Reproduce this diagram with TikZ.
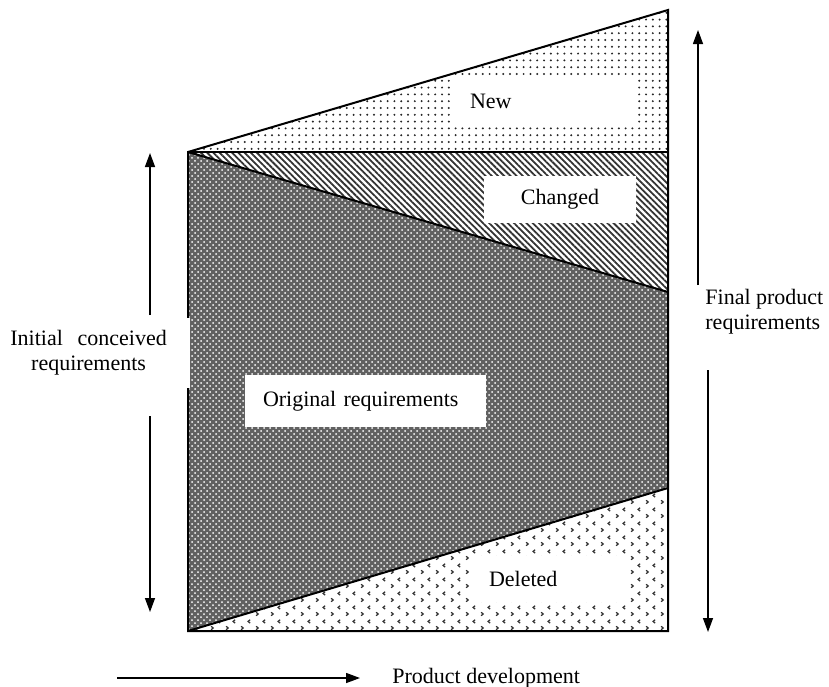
\documentclass[tikz,border=0pt]{standalone}
\usepackage{fontspec}
\setmainfont{Liberation Serif}
\usetikzlibrary{patterns,patterns.meta,arrows.meta}

% small < and > marks for the deleted part
\pgfdeclarepatternformonly{chevrons}{\pgfpointorigin}{\pgfpoint{7.5pt}{7pt}}{\pgfpoint{7.5pt}{7pt}}{
  \pgfsetlinewidth{0.65pt}
  \pgfpathmoveto{\pgfpoint{0.6pt}{2.5pt}}
  \pgfpathlineto{\pgfpoint{1.7pt}{1.6pt}}
  \pgfpathlineto{\pgfpoint{0.6pt}{0.7pt}}
  \pgfpathmoveto{\pgfpoint{5.4pt}{6.0pt}}
  \pgfpathlineto{\pgfpoint{4.3pt}{5.1pt}}
  \pgfpathlineto{\pgfpoint{5.4pt}{4.2pt}}
  \pgfusepath{stroke}}

\begin{document}
\begin{tikzpicture}[x=0.5pt,y=-0.5pt,font=\fontsize{11}{12.5}\selectfont]
        \tikzstyle{edge}=[line width=1pt]
        \tikzstyle{arr}=[line width=0.7pt,-{Triangle[width=5pt,length=7pt]}]
        \tikzstyle{lbl}=[fill=white,inner ysep=0pt,align=left]
        \tikzstyle{txt}=[inner sep=0pt,align=left]

        \useasboundingbox (0,0) rectangle (829,686);

        % corners of the block
        \coordinate (lt) at (188,152);
        \coordinate (rt) at (668,10);
        \coordinate (rm) at (668,152);
        \coordinate (rc) at (668,292);
        \coordinate (rd) at (668,488);
        \coordinate (lb) at (188,631);
        \coordinate (rb) at (668,631);

        % the four parts
        \fill[pattern={Dots[distance=3.4pt,radius=0.55pt]},pattern color=black!85]
            (lt) -- (rt) -- (rm) -- cycle;
        \fill[pattern={Lines[angle=-45,distance=2.2pt,line width=0.9pt]},pattern color=black!80]
            (lt) -- (rm) -- (rc) -- cycle;
        \fill[black!62,postaction={pattern=crosshatch dots,pattern color=white}]
            (lt) -- (rc) -- (rd) -- (lb) -- cycle;
        \fill[pattern=chevrons,pattern color=black!80]
            (lb) -- (rd) -- (rb) -- cycle;

        \draw[edge] (lt) -- (rt) -- (rb) -- (lb) -- cycle;
        \draw[edge] (lt) -- (rm);
        \draw[edge] (lt) -- (rc);
        \draw[edge] (lb) -- (rd);

        % labels in the parts
        \node [lbl,text width=74.5pt,inner xsep=9pt,minimum height=24pt] (new) at (544.5,101) {New};
        \node [lbl,text width=58pt,inner xsep=9pt,minimum height=23.5pt,align=center] (changed) at (560,199.5) {Changed};
        \node [lbl,text width=102.5pt,inner xsep=9pt,minimum height=26pt] (orig) at (365.5,401) {Original requirements};
        \node [lbl,text width=60pt,inner xsep=9.5pt,minimum height=23pt] (deleted) at (549,579) {Deleted};

        % side and bottom labels
        \node [lbl,anchor=east,text width=80pt,inner xsep=10.5pt,minimum height=35pt,align=center] (init) at (190,353)
            {Initial\ \ conceived\\requirements};
        \node [txt,anchor=west] (final) at (705,312) {Final product\\requirements};
        \node [txt,anchor=west] (proddev) at (392,678) {Product development};

        \coordinate (ia1) at (150,315);
        \coordinate (ia2) at (150,153);
        \coordinate (ib1) at (150,416);
        \coordinate (ib2) at (150,612);
        \coordinate (fa1) at (698,285);
        \coordinate (fa2) at (698,30);
        \coordinate (fb1) at (708,370);
        \coordinate (fb2) at (708,632);
        \coordinate (pd1) at (117,678);
        \coordinate (pd2) at (360,678);

        \draw[arr] (ia1) -- (ia2);
        \draw[arr] (ib1) -- (ib2);
        \draw[arr] (fa1) -- (fa2);
        \draw[arr] (fb1) -- (fb2);
        \draw[arr] (pd1) -- (pd2);
\end{tikzpicture}
\end{document}
